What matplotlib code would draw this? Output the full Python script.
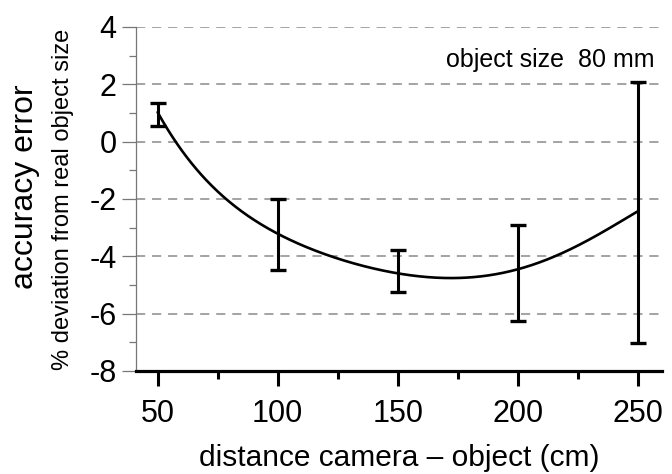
import numpy as np
import matplotlib
matplotlib.use("Agg")
import matplotlib.pyplot as plt
from matplotlib.ticker import MultipleLocator

plt.rcParams['font.family'] = ['Liberation Sans', 'DejaVu Sans']

# Error bar data (distance in cm, lower/upper limits in %)
distance = [50, 100, 150, 200, 250]
err_low = [0.53, -4.46, -5.25, -6.25, -7.04]
err_high = [1.36, -2.0, -3.77, -2.89, 2.09]

# Points
curve_x = [50, 55, 59, 65, 70, 79, 88, 99, 112, 126, 140, 151, 160, 170, 180,
           187, 194, 200, 210, 219, 228, 237, 244, 250]
curve_y = [0.95, 0.37, -0.15, -0.82, -1.31, -2.0, -2.69, -3.18, -3.68, -4.14,
           -4.43, -4.56, -4.65, -4.71, -4.72, -4.70, -4.63, -4.54, -4.21, -3.82,
           -3.43, -3.04, -2.73, -2.46]

xticks = [50, 100, 150, 200, 250]
yticks = [-8, -6, -4, -2, 0, 2, 4]

fig = plt.figure(figsize=(6.72, 4.74), dpi=100)
ax = fig.add_axes([136/672, 1-371/474, (662-136)/672, (371-27)/474])

ax.set_xlim(41, 260)
ax.set_ylim(-8, 4)

# dashed horizontal gridlines
for yv in yticks[1:]:
    ax.axhline(yv, color='#8a8a8a', lw=1.1, ls=(0, (6, 4.5)), zorder=1)

# fitted curve: smooth polynomial through the read points
cx = np.asarray(curve_x, float)
t = (cx - 150) / 100
coef = np.polyfit(t, curve_y, 5)
xs = np.linspace(50, 250, 400)
ax.plot(xs, np.polyval(coef, (xs - 150) / 100), color='black', lw=1.9,
        zorder=3, solid_capstyle='round')

# error bars
mid = [(a + b) / 2 for a, b in zip(err_low, err_high)]
half = [(b - a) / 2 for a, b in zip(err_low, err_high)]
ax.errorbar(distance, mid, yerr=half, fmt='none', ecolor='black',
            elinewidth=2.2, capsize=6, capthick=2.4, zorder=4)

# spines
for s in ['top', 'right']:
    ax.spines[s].set_visible(False)
ax.spines['left'].set_color('#777777')
ax.spines['left'].set_linewidth(0.9)
ax.spines['bottom'].set_color('black')
ax.spines['bottom'].set_linewidth(2.3)

ax.set_xticks(xticks)
ax.set_yticks(yticks)
ax.xaxis.set_minor_locator(MultipleLocator(25))
ax.yaxis.set_minor_locator(MultipleLocator(1))
ax.tick_params(axis='x', which='major', length=11, width=2.2, color='black',
               direction='out', labelsize=22, pad=9)
ax.tick_params(axis='x', which='minor', length=6, width=2.2, color='black',
               direction='out')
ax.tick_params(axis='y', which='major', length=10, width=0.9, color='#777777',
               direction='out', labelsize=22, pad=4)
ax.tick_params(axis='y', which='minor', length=5, width=0.9, color='#777777',
               direction='out')
ax.set_yticklabels([str(v) for v in yticks])

ax.set_xlabel('distance camera \u2013 object (cm)', fontsize=21.5, labelpad=11)

fig.text(25/672, 1-187/474, 'accuracy error', rotation=90, fontsize=23,
         ha='center', va='center')
fig.text(63/672, 1-199/474, '% deviation from real object size', rotation=90,
         fontsize=17, ha='center', va='center')

ax.text(0.985, 0.905, 'object size  80 mm', transform=ax.transAxes,
        ha='right', va='center', fontsize=18)

fig.savefig('out.png', dpi=100)
